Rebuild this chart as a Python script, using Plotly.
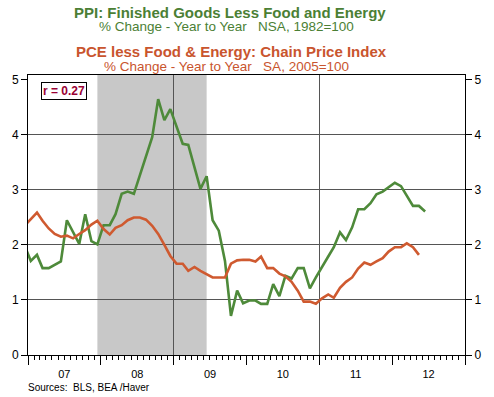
import pandas as pd
import plotly.graph_objects as go

# ---- data (monthly, Dec 2006 .. Jun 2012) ----
months = pd.date_range("2006-12-01", "2012-06-01", freq="MS")

ppi_core = [1.99,
            1.71, 1.82, 1.58, 1.58, 1.64, 1.70, 2.45, 2.22, 2.02, 2.56, 2.07, 2.01,
            2.36, 2.36, 2.56, 2.93, 2.97, 2.93, 3.27, 3.62, 3.96, 4.65, 4.27, 4.47,
            4.15, 3.84, 3.82, 3.42, 3.02, 3.25, 2.45, 2.26, 1.71, 0.71, 1.17, 0.94,
            0.99, 0.99, 0.93, 0.93, 1.29, 1.07, 1.44, 1.39, 1.58, 1.58, 1.21, 1.41,
            1.61, 1.79, 1.96, 2.23, 2.09, 2.32, 2.65, 2.65, 2.76, 2.92, 2.97, 3.05,
            3.13, 3.07, 2.90, 2.71, 2.71, 2.61]

pce_core = [2.35,
            2.48, 2.59, 2.44, 2.30, 2.20, 2.15, 2.17, 2.12, 2.20, 2.27, 2.37, 2.44,
            2.29, 2.19, 2.31, 2.36, 2.45, 2.50, 2.50, 2.46, 2.35, 2.20, 2.00, 1.80,
            1.66, 1.66, 1.53, 1.60, 1.53, 1.47, 1.41, 1.41, 1.41, 1.66, 1.72, 1.73,
            1.73, 1.70, 1.79, 1.58, 1.58, 1.48, 1.43, 1.33, 1.17, 0.97, 0.97, 0.93,
            1.03, 1.10, 1.04, 1.22, 1.33, 1.41, 1.57, 1.68, 1.64, 1.70, 1.76, 1.88,
            1.96, 1.96, 2.03, 1.96, 1.82]

recession_start = "2007-12-15"
recession_end = "2009-06-15"

y_ticks = [0, 1, 2, 3, 4, 5]
grid_vals = [1, 2, 3, 4]
corr_text = "r = 0.27"

x_dates = months + pd.Timedelta(days=14)

GREEN = "#4E8A3A"
GREEN_T = "#4B7F35"
ORANGE = "#CF5A30"
ORANGE_T = "#C9552E"
FONT = "Liberation Sans, Arial, sans-serif"
x_range = ["2007-01-01", "2013-01-01"]
y_range = [0, 5.09]

fig = go.Figure()
fig.add_trace(go.Scatter(x=x_dates, y=ppi_core, mode="lines",
                         line=dict(color=GREEN, width=2.6), showlegend=False))
fig.add_trace(go.Scatter(x=x_dates[:len(pce_core)], y=pce_core, mode="lines",
                         line=dict(color=ORANGE, width=2.6), showlegend=False))
# empty traces to anchor the right axis and grid overlay axes
fig.add_trace(go.Scatter(x=[], y=[], yaxis="y2", showlegend=False, hoverinfo="skip"))
fig.add_trace(go.Scatter(x=[], y=[], xaxis="x2", yaxis="y3", showlegend=False, hoverinfo="skip"))

fig.add_shape(type="rect", xref="x", yref="paper", x0=recession_start, x1=recession_end,
              y0=0, y1=1, fillcolor="#C8C8C8", line=dict(width=0), layer="below")

tickfont = dict(family=FONT, size=12, color="#000000")

fig.update_layout(
    width=494, height=397,
    margin=dict(l=25, r=29, t=75, b=42),
    paper_bgcolor="white", plot_bgcolor="white",
    font=dict(family=FONT),
    xaxis=dict(type="date", range=x_range, tick0="2007-01-01", dtick="M12",
               tickformat="%y", ticklabelmode="period", ticks="outside", ticklen=9,
               tickcolor="black", tickwidth=1, showgrid=False, zeroline=False,
               showline=True, linecolor="black", linewidth=1, mirror=True,
               tickfont=dict(family=FONT, size=11, color="#000000"),
               minor=dict(dtick="M1", ticks="outside", ticklen=4, tickcolor="black",
                          showgrid=False)),
    xaxis2=dict(type="date", range=x_range, overlaying="x", tick0="2007-01-01",
                dtick="M24", showticklabels=False, ticks="", showline=False,
                showgrid=True, gridcolor="#555555", gridwidth=1, zeroline=False),
    yaxis=dict(range=y_range, tickvals=y_ticks, ticks="outside", ticklen=6,
               tickcolor="black", showgrid=False, zeroline=False, showline=True,
               linecolor="black", linewidth=1, tickfont=tickfont),
    yaxis2=dict(range=y_range, tickvals=y_ticks, overlaying="y", side="right",
                ticks="outside", ticklen=6, tickcolor="black", showgrid=False,
                zeroline=False, showline=True, linecolor="black", linewidth=1,
                tickfont=tickfont),
    yaxis3=dict(range=y_range, tickvals=grid_vals, overlaying="y", showticklabels=False,
                ticks="", showline=False, showgrid=True, gridcolor="#555555",
                gridwidth=1, zeroline=False),
)

def ypx(p):
    return (355 - p) / 280.0

def xpx(p):
    return (p - 25) / 440.0

titles = [
    ("<b>PPI: Finished Goods Less Food and Energy</b>", 228.5, 13.0, GREEN_T, 15),
    ("% Change - Year to Year\u00a0\u00a0\u00a0NSA, 1982=100", 224.5, 27.0, GREEN_T, 13.5),
    ("<b>PCE less Food & Energy: Chain Price Index</b>", 229.7, 51.5, ORANGE_T, 15),
    ("% Change - Year to Year\u00a0\u00a0\u00a0SA, 2005=100", 225, 66.8, ORANGE_T, 13.5),
]
for txt, xc, yc, col, fs in titles:
    fig.add_annotation(text=txt, xref="paper", yref="paper", x=xpx(xc), y=ypx(yc),
                       xanchor="center", yanchor="middle", showarrow=False, borderpad=0,
                       font=dict(family=FONT, size=fs, color=col))

fig.add_annotation(text="<b>" + corr_text + "</b>", xref="paper", yref="paper",
                   x=xpx(61.3), y=ypx(90.5), xanchor="center", yanchor="middle",
                   showarrow=False, bgcolor="white", bordercolor="black", borderwidth=1,
                   borderpad=1, font=dict(family=FONT, size=12, color="#990033"))

fig.add_annotation(text="Sources:\u00a0 BLS, BEA /Haver", xref="paper", yref="paper",
                   x=xpx(23), y=ypx(387.5), xanchor="left", yanchor="middle",
                   showarrow=False, font=dict(family=FONT, size=10, color="#000000"))

fig.write_html("out.html", config={"displayModeBar": False},
               post_script="document.body.style.margin='0px';")
